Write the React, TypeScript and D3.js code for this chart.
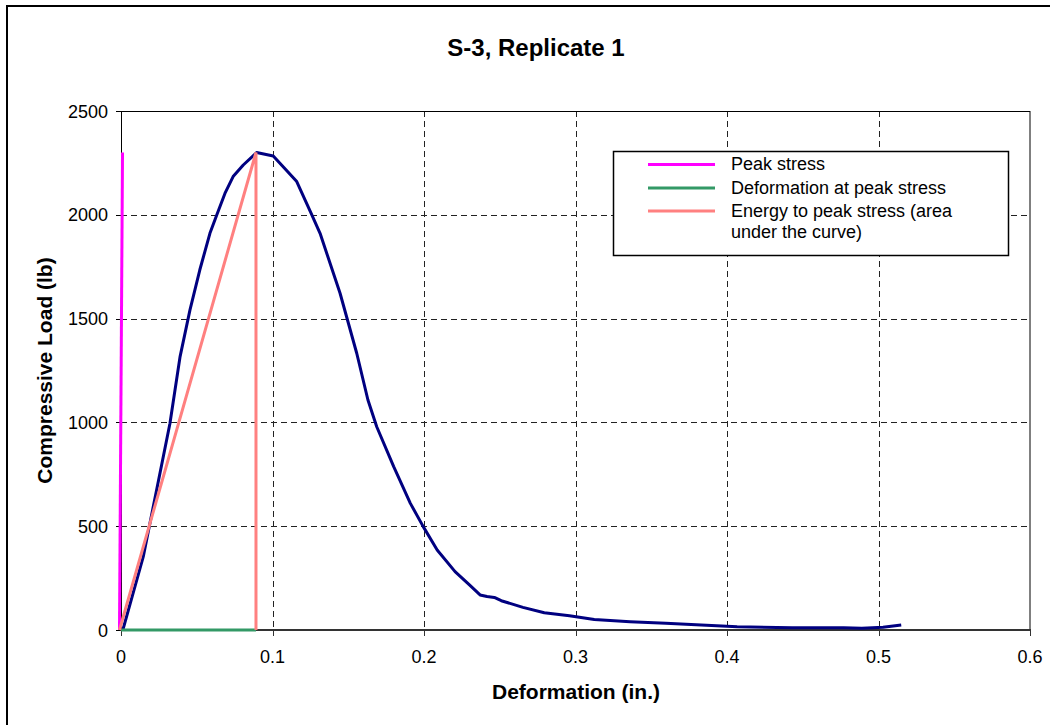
import React from "react";
import * as d3 from "d3";

const curveX = [0.0012, 0.0147, 0.0191, 0.0323, 0.039, 0.0455, 0.052, 0.0587, 0.0632, 0.0686, 0.074, 0.0807, 0.0895, 0.1005, 0.116, 0.125, 0.1314, 0.1446, 0.1556, 0.163, 0.1688, 0.18, 0.191, 0.1995, 0.2087, 0.2205, 0.23, 0.237, 0.2416, 0.2464, 0.251, 0.2653, 0.2794, 0.296, 0.3124, 0.336, 0.3596, 0.383, 0.4067, 0.443, 0.477, 0.489, 0.503, 0.515];
const curveY = [0, 353, 514, 995, 1317, 1541, 1734, 1911, 1999, 2103, 2184, 2240, 2300, 2283, 2160, 2015, 1911, 1622, 1333, 1108, 979, 787, 610, 498, 385, 281, 217, 169, 161, 157, 141, 109, 83, 69, 51, 40, 32, 24, 16, 11, 11, 8, 13, 24];

const peakX = [-0.001, 0.001];
const peakY = [0, 2300];
const deformX = [0, 0.0891];
const deformY = [0, 0];
const energyX = [-0.001, 0.0891, 0.0891];
const energyY = [0, 2300, 0];

const xTicks = [0, 0.1, 0.2, 0.3, 0.4, 0.5, 0.6];
const yTicks = [0, 500, 1000, 1500, 2000, 2500];
const legendLabels = [["Peak stress"], ["Deformation at peak stress"], ["Energy to peak stress (area", "under the curve)"]];
const legendColors = ["#FF00FF", "#339966", "#FF8080"];

const FONT = "'Liberation Sans', Arial, sans-serif";

export default function App() {
  const x = d3.scaleLinear().domain([0, 0.6]).range([121, 1030]);
  const y = d3.scaleLinear().domain([0, 2500]).range([630, 111]);
  const line = d3.line<[number, number]>().x((d) => x(d[0])).y((d) => y(d[1]));
  const zip = (a: number[], b: number[]) => a.map((v, i) => [v, b[i]] as [number, number]);

  const legendRowY = [163.5, 187, 210];
  return (
    <svg width={1050} height={725} style={{ position: "absolute", left: 0, top: 0 }} fontFamily={FONT}>
      <rect x={0} y={0} width={1050} height={725} fill="white" />
      <rect x={7} y={6} width={1080} height={760} fill="white" stroke="black" strokeWidth={2} />
      <text x={536} y={56} textAnchor="middle" fontSize={24} fontWeight="bold">S-3, Replicate 1</text>
      {/* grid */}
      {xTicks.slice(1, -1).map((t) => (
        <line key={"gx" + t} x1={Math.round(x(t)) + 0.5} x2={Math.round(x(t)) + 0.5} y1={111} y2={630} stroke="#222" strokeDasharray="6,4" />
      ))}
      {yTicks.slice(1, -1).map((t) => (
        <line key={"gy" + t} x1={121} x2={1030} y1={Math.round(y(t)) + 0.5} y2={Math.round(y(t)) + 0.5} stroke="#222" strokeDasharray="6,4" />
      ))}
      <rect x={121.5} y={111.5} width={908.5} height={518.5} fill="none" stroke="black" strokeWidth={1} />
      {/* axes */}
      <line x1={121} x2={1031} y1={630} y2={630} stroke="#333" strokeWidth={2} />
      <line x1={121.5} x2={121.5} y1={111} y2={631} stroke="black" strokeWidth={1} />
      {xTicks.map((t) => (
        <g key={"xt" + t}>
          <line x1={Math.round(x(t)) + 0.5} x2={Math.round(x(t)) + 0.5} y1={630} y2={636} stroke="#333" />
          <text x={x(t)} y={663} textAnchor="middle" fontSize={18}>{t}</text>
        </g>
      ))}
      {yTicks.map((t) => (
        <g key={"yt" + t}>
          <line x1={116} x2={121} y1={Math.round(y(t)) + 0.5} y2={Math.round(y(t)) + 0.5} stroke="black" />
          <text x={108} y={y(t) + 6.5} textAnchor="end" fontSize={18}>{t}</text>
        </g>
      ))}
      <text x={576} y={699} textAnchor="middle" fontSize={21} fontWeight="bold">Deformation (in.)</text>
      <text transform={`translate(52,${(111 + 630) / 2}) rotate(-90)`} textAnchor="middle" fontSize={21} fontWeight="bold">Compressive Load (lb)</text>
      {/* series */}
      <path d={line(zip(curveX, curveY)) || ""} fill="none" stroke="#000080" strokeWidth={3} strokeLinejoin="round" />
      <path d={line(zip(peakX, peakY)) || ""} fill="none" stroke="#FF00FF" strokeWidth={3} />
      <path d={line(zip(deformX, deformY)) || ""} fill="none" stroke="#339966" strokeWidth={3} />
      <path d={line(zip(energyX, energyY)) || ""} fill="none" stroke="#FF8080" strokeWidth={3} />
      {/* legend */}
      <rect x={613.5} y={151.5} width={395} height={104} fill="white" stroke="black" strokeWidth={1.5} />
      {legendLabels.map((lab, i) => (
        <g key={"lg" + i}>
          <line x1={648} x2={715} y1={legendRowY[i] + 1} y2={legendRowY[i] + 1} stroke={legendColors[i]} strokeWidth={3} />
          {lab.map((s, j) => (
            <text key={j} x={731} y={legendRowY[i] + 6.5 + j * 21} fontSize={18}>{s}</text>
          ))}
        </g>
      ))}
    </svg>
  );
}
